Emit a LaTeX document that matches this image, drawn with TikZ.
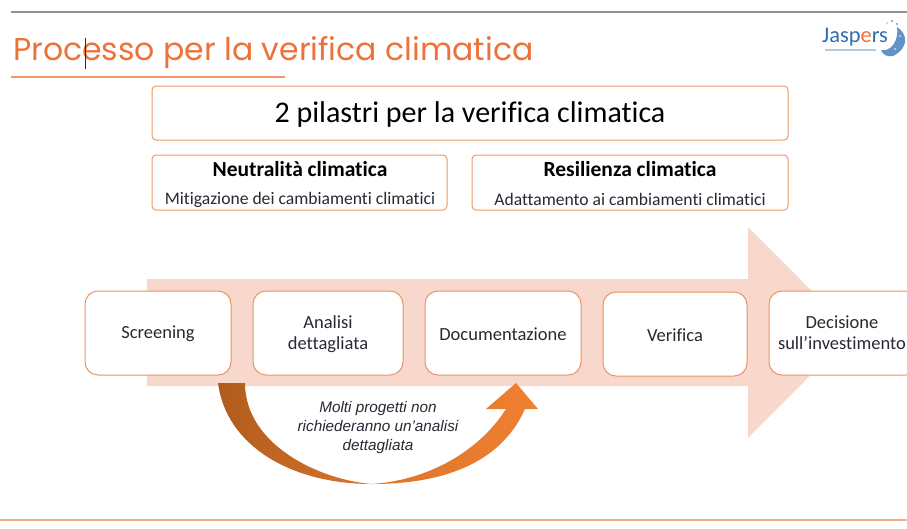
\documentclass[tikz,border=0pt]{standalone}
\usepackage{fontspec}
\setmainfont{Carlito}[Ligatures=NoCommon]
\newfontfamily\titlefont{Poppins}
\newfontfamily\arialfont{Liberation Sans}
\usetikzlibrary{shadings}
\definecolor{edgeor}{HTML}{EE9A68}
\definecolor{titleor}{HTML}{EE7238}
\definecolor{bandor}{HTML}{F8D8CC}
\definecolor{arrowdark}{HTML}{B05C1E}
\definecolor{arrowor}{HTML}{F08030}
\definecolor{inkc}{HTML}{262A33}
\definecolor{jblue}{HTML}{2F6DB0}
\tikzset{
  pillar/.style={draw=edgeor,line width=1pt,fill=white,rounded corners=4pt,inner sep=0pt,text=black},
  stage/.style={draw=edgeor!85!brown,line width=1pt,fill=white,rounded corners=13pt,inner sep=0pt},
  stagetext/.style={label={[align=center,text=inkc,inner sep=0pt,yshift=-.7pt,font=\fontsize{18.5}{21}\selectfont]center:#1}},
}
\begin{document}
\begin{tikzpicture}[x=1pt,y=-1pt]
\useasboundingbox (0,0) rectangle (907,528);
\fill[white] (0,0) rectangle (907,528);
% rules
\fill[gray!85] (11,11) rectangle (907,13);
\fill[titleor!75] (11,76) rectangle (285,78);
\draw[edgeor!80,line width=1.2pt] (0,520) -- (907,520);
% title
\node[anchor=base west,inner sep=0pt,text=titleor,font=\titlefont\fontsize{31.5}{36}\selectfont] (title) at (13,60) {Processo per la verifica climatica};
\draw[inkc,line width=.9pt] (85,38) -- (85,69);
% logo
\node[anchor=base west,inner sep=0pt,text=jblue,font=\fontsize{22.4}{24}\selectfont] (logo) at (822,42) {Jasp{\color{titleor}e}rs};
\fill[jblue!70,opacity=.5] (825,48.5) rectangle (876,50.5);
\fill[jblue!75] (897,27) .. controls (908,34) and (909,48) .. (893,56) .. controls (887,57) and (883,55) .. (881,50) .. controls (890,52) and (899,42) .. (897,27) -- cycle;
\fill[jblue] (892,21) circle (.9) (897,24) circle (.9) (887,23) circle (.6);
\fill[white] (900,36) circle (.9) (895,49) circle (.9);
% big arrow
\fill[bandor] (147,279) -- (748,279) -- (748,227) -- (853,332.5) -- (748,438) -- (748,386) -- (147,386) -- cycle;
% pillars
\node[pillar,minimum width=636pt,minimum height=54pt] (head) at (470,113) {};
\node[inner sep=0pt,font=\fontsize{30}{34}\selectfont] (headt) at (470,114) {2 pilastri per la verifica climatica};
\node[pillar,minimum width=295pt,minimum height=55pt] (neutr) at (299.5,182.5) {};
\node[pillar,minimum width=316pt,minimum height=55pt] (resil) at (630,182.5) {};
\node[font=\bfseries\fontsize{21.5}{24}\selectfont,inner sep=0pt] (neutrt) at (300,169) {Neutralità climatica};
\node[font=\fontsize{17.6}{20}\selectfont,inner sep=0pt,text=inkc] (neutrs) at (300,199.5) {Mitigazione dei cambiamenti climatici};
\node[font=\bfseries\fontsize{21.5}{24}\selectfont,inner sep=0pt] (resilt) at (630,169) {Resilienza climatica};
\node[font=\fontsize{17.6}{20}\selectfont,inner sep=0pt,text=inkc] (resils) at (630,199.5) {Adattamento ai cambiamenti climatici};
% stages
\node[stage,minimum width=146pt,minimum height=84pt,stagetext={Screening}] (s1) at (158,333) {};
\node[stage,minimum width=150pt,minimum height=84pt,stagetext={Analisi\\dettagliata}] (s2) at (328,333) {};
\node[stage,minimum width=156pt,minimum height=84pt,stagetext={Documentazione}] (s3) at (503,333) {};
\node[stage,minimum width=144pt,minimum height=84pt,stagetext={Verifica}] (s4) at (675,334) {};
\node[stage,minimum width=150pt,minimum height=84pt] (s5) at (844,333) {};
\node[align=center,text=inkc,inner sep=0pt,font=\fontsize{18.5}{21}\selectfont] (s5t) at (842,333) {Decisione\\sull’investimento};
% curved arrow
\path[left color=arrowdark,right color=arrowor,middle color=arrowor!70!arrowdark]
 (218,383) .. controls (226,445) and (290,484) .. (372,484)
 .. controls (440,484) and (500,465) .. (525,409) -- (538,409) -- (516,383) -- (486,409) -- (506,409)
 .. controls (480,450) and (430,480) .. (372,484)
 .. controls (320,480) and (245,445) .. (245,383) -- cycle;
\node[align=center,inner sep=0pt,text=inkc,font=\arialfont\itshape\fontsize{15.3}{18.7}\selectfont] (note) at (378,427.5) {Molti progetti non\\richiederanno un’analisi\\dettagliata};
\end{tikzpicture}
\end{document}
